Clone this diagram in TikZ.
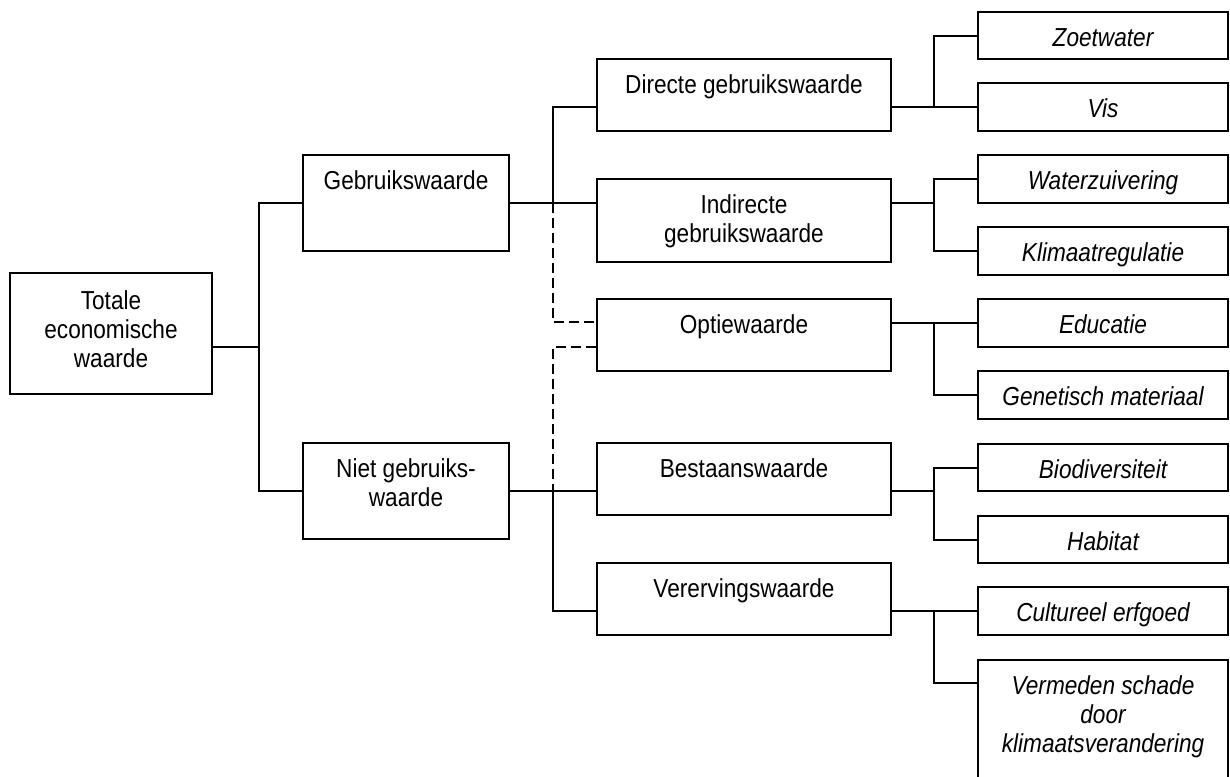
\documentclass[tikz,border=0pt]{standalone}
\usepackage{fontspec}
\setmainfont[FakeStretch=0.87]{Liberation Sans}
\usetikzlibrary{fit}

\tikzset{
  box/.style={draw, line width=1pt, inner sep=0pt, rectangle},
  lab/.style={anchor=north, inner sep=0pt, align=center, yshift=-7.3pt,
    font=\fontsize{13pt}{14.5pt}\selectfont},
  ilab/.style={lab, font=\fontsize{13pt}{14.5pt}\selectfont\itshape},
  wire/.style={line width=1pt},
  dwire/.style={line width=1pt, dash pattern=on 5pt off 2.5pt},
}

% \valbox{name}{text}{x1}{y1}{x2}{y2}{label style}
\newcommand\valbox[7]{%
  \node[box, fit={(#3,#4) (#5,#6)}, label={[#7]north:{\strut #2}}] (#1) {};}

\begin{document}
\begin{tikzpicture}[x=0.5pt, y=-0.5pt]
\useasboundingbox (0,0) rectangle (1230,776);

% first and second level
\valbox{tot}{Totale\\economische\\waarde}{10}{273}{212}{394}{lab, yshift=-1pt}
\valbox{gebr}{Gebruikswaarde}{303}{155}{509}{251}{lab}
\valbox{niet}{Niet gebruiks-\\waarde}{303}{443}{509}{539}{lab}

% value types
\valbox{dir}{Directe gebruikswaarde}{597}{59}{891}{131}{lab}
\valbox{ind}{Indirecte\\gebruikswaarde}{597}{179}{891}{262}{lab}
\valbox{opt}{Optiewaarde}{597}{299}{891}{371}{lab}
\valbox{best}{Bestaanswaarde}{597}{443}{891}{515}{lab}
\valbox{verv}{Verervingswaarde}{597}{563}{891}{635}{lab}

% examples
\valbox{zoet}{Zoetwater}{978}{12}{1228}{59}{ilab}
\valbox{vis}{Vis}{978}{83}{1228}{131}{ilab}
\valbox{wat}{Waterzuivering}{978}{155}{1228}{203}{ilab}
\valbox{klim}{Klimaatregulatie}{978}{227}{1228}{275}{ilab}
\valbox{edu}{Educatie}{978}{299}{1228}{347}{ilab}
\valbox{gen}{Genetisch materiaal}{978}{371}{1228}{419}{ilab}
\valbox{bio}{Biodiversiteit}{978}{444}{1228}{491}{ilab}
\valbox{hab}{Habitat}{978}{516}{1228}{563}{ilab}
\valbox{cult}{Cultureel erfgoed}{978}{587}{1228}{635}{ilab}
\valbox{verm}{Vermeden schade\\door\\klimaatsverandering}{978}{660}{1228}{785}{ilab}

% junction points
\coordinate (s1mid) at (259,347);
\coordinate (s1top) at (259,203);
\coordinate (s1bot) at (259,491);
\coordinate (s2a) at (553,107);
\coordinate (s2b) at (553,203);
\coordinate (s2c) at (553,322);
\coordinate (s2d) at (553,347);
\coordinate (s2e) at (553,491);
\coordinate (s2f) at (553,611);
\coordinate (rx) at (934,0);
\coordinate (vj) at (934,683);

% level one
\draw[wire] (tot.east |- s1mid) -- (s1mid);
\draw[wire] (gebr.west) -- (s1top) -- (s1bot) -- (niet.west);

% level two
\draw[wire] (gebr.east) -- (ind.west |- gebr.east);
\draw[wire] (dir.west |- s2a) -- (s2a) -- (s2b);
\draw[dwire] (s2b) -- (s2c) -- (opt.west |- s2c);
\draw[dwire] (opt.west |- s2d) -- (s2d) -- (s2e);
\draw[wire] (niet.east) -- (best.west |- niet.east);
\draw[wire] (s2e) -- (s2f) -- (verv.west |- s2f);

% level three
\draw[wire] (dir.east |- vis.west) -- (vis.west);
\draw[wire] (zoet.west) -- (zoet.west -| rx) -- (rx |- vis.west);

\draw[wire] (ind.east |- gebr.east) -- (rx |- gebr.east);
\draw[wire] (wat.west) -- (wat.west -| rx) -- (rx |- klim.west) -- (klim.west);

\draw[wire] (opt.east |- edu.west) -- (edu.west);
\draw[wire] (rx |- edu.west) -- (rx |- gen.west) -- (gen.west);

\draw[wire] (best.east |- niet.east) -- (rx |- niet.east);
\draw[wire] (bio.west) -- (bio.west -| rx) -- (rx |- hab.west) -- (hab.west);

\draw[wire] (verv.east |- cult.west) -- (cult.west);
\draw[wire] (rx |- cult.west) -- (vj) -- (verm.west |- vj);
\end{tikzpicture}
\end{document}
